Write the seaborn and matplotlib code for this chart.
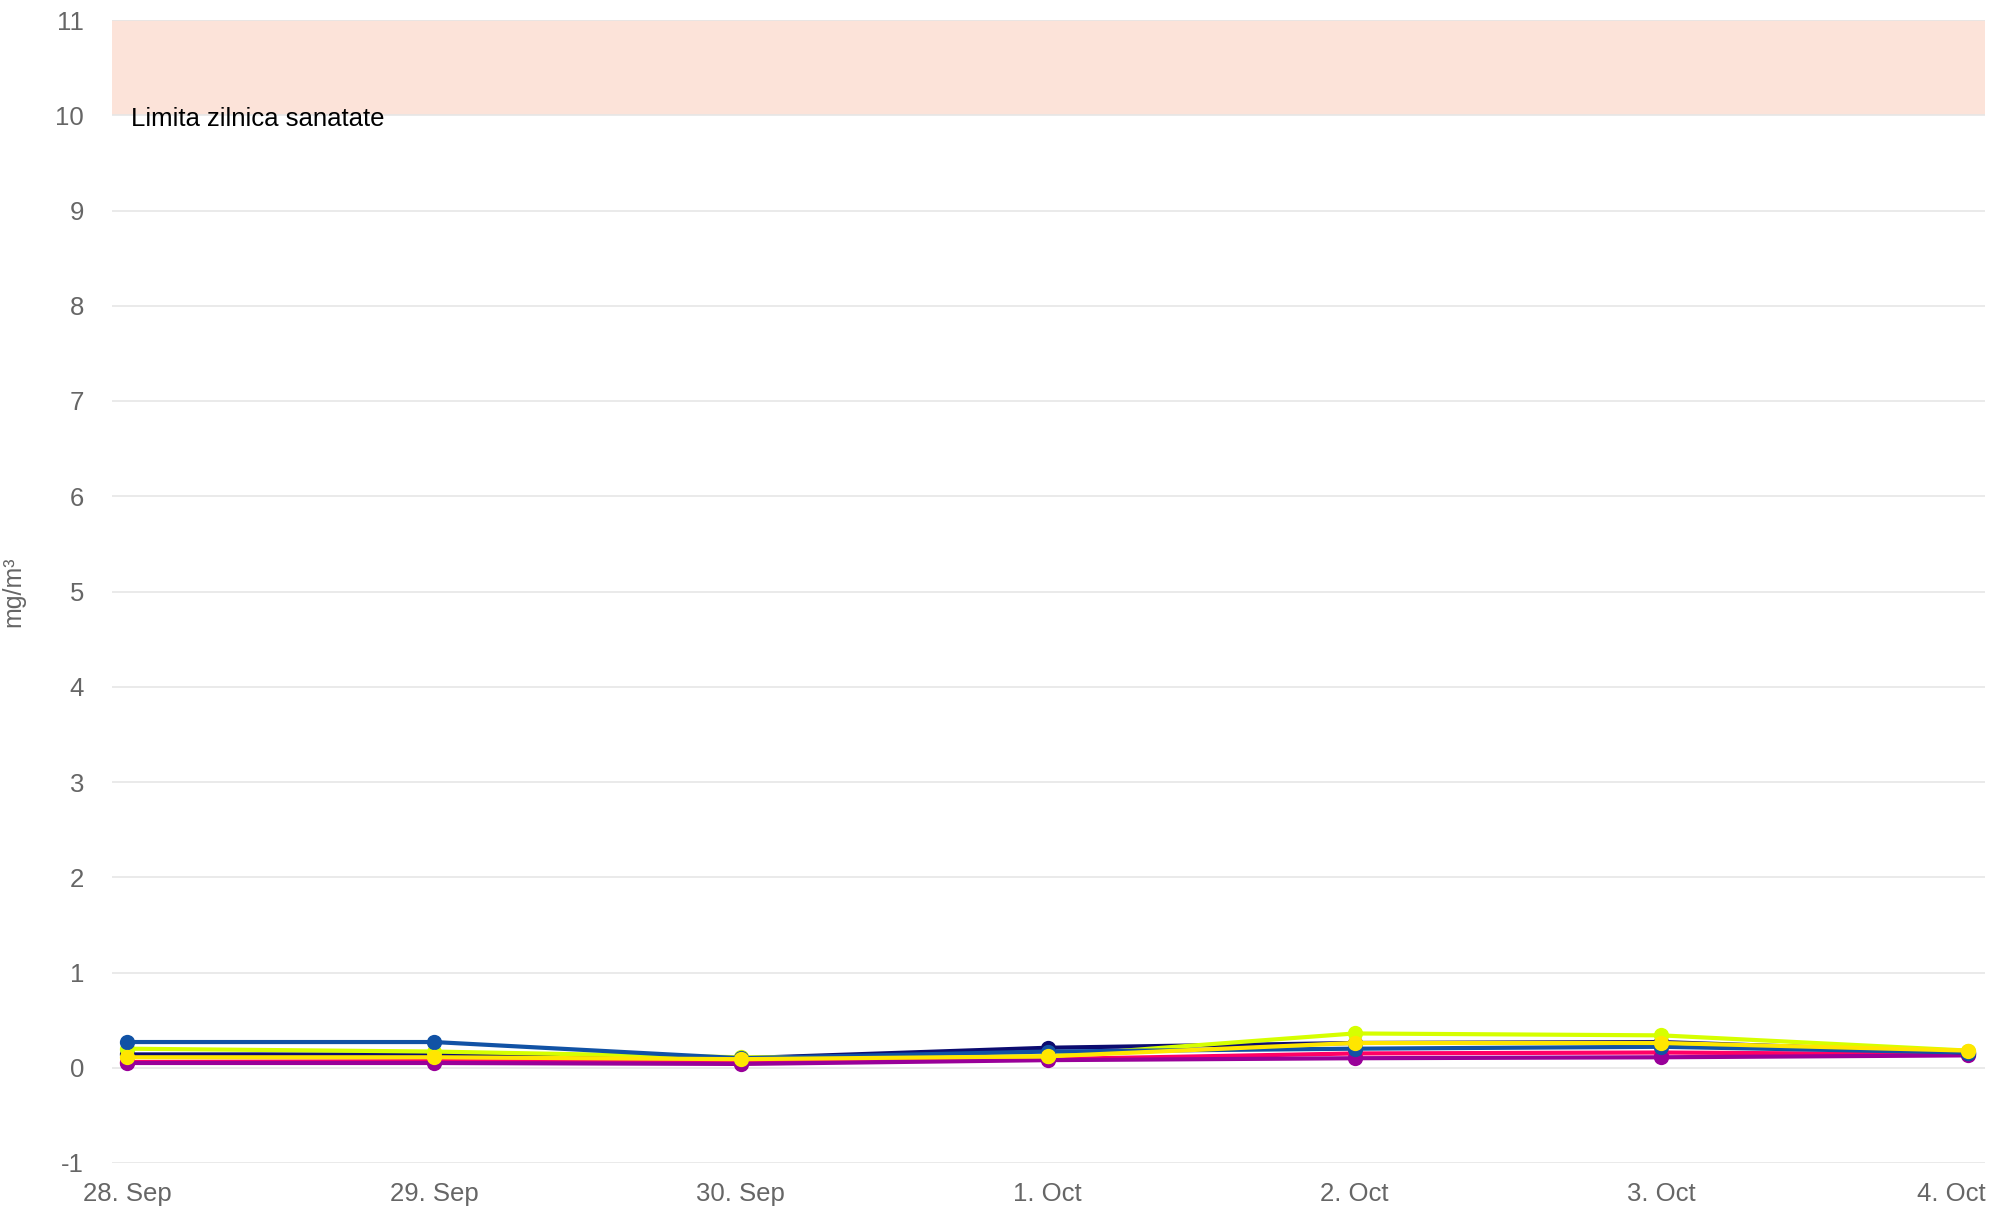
import numpy as np
import pandas as pd
import matplotlib
matplotlib.use('Agg')
import matplotlib.pyplot as plt
import matplotlib.transforms as mtrans
import seaborn as sns

# days on the x axis
days = ['28. Sep', '29. Sep', '30. Sep', '1. Oct', '2. Oct', '3. Oct', '4. Oct']

# daily values (mg/m³) per station
st_pink = [0.06, 0.07, 0.06, 0.09, 0.15, 0.16, 0.14]
st_purple = [0.05, 0.05, 0.04, 0.08, 0.10, 0.11, 0.13]
st_navy = [0.14, 0.14, 0.10, 0.21, 0.26, 0.27, 0.16]
st_ygreen = [0.20, 0.17, 0.11, 0.12, 0.36, 0.34, 0.18]
st_blue = [0.27, 0.27, 0.10, 0.17, 0.20, 0.22, 0.16]
st_yellow = [0.11, 0.11, 0.09, 0.12, 0.26, 0.26, 0.18]

series = {
    'S5': st_pink,
    'S6': st_purple,
    'S1': st_navy,
    'S3': st_ygreen,
    'S2': st_blue,
    'S4': st_yellow,
}
colors = {
    'S5': '#ff0066',
    'S6': '#990099',
    'S1': '#0b0b70',
    'S3': '#d6ff00',
    'S2': '#1152a5',
    'S4': '#ffe600',
}

limit_low, limit_high = 10, 11
limit_label = 'Limita zilnica sanatate'

rows = []
for name, vals in series.items():
    for i, v in enumerate(vals):
        rows.append({'day': i, 'value': v, 'station': name})
df = pd.DataFrame(rows)

sns.set_style('white')
plt.rcParams['font.family'] = ['Liberation Sans', 'DejaVu Sans']
plt.rcParams['axes.unicode_minus'] = False

fig = plt.figure(figsize=(19.95, 12.10), dpi=100)
ax = fig.add_axes([112 / 1995, 1 - 1163 / 1210, (1985 - 112) / 1995, (1163 - 20) / 1210])

ax.axhspan(limit_low, limit_high, color='#fce3d9', zorder=0, lw=0)

sns.lineplot(data=df, x='day', y='value', hue='station', hue_order=list(series.keys()),
             palette=colors, marker='o', markersize=11, markeredgewidth=0,
             linewidth=3, ax=ax, legend=False, zorder=3)

ax.set_ylim(-1, 11)
ax.set_xlim(-0.05, 6.055)
ax.set_yticks(range(-1, 12))
ax.set_xticks(range(len(days)))
ax.set_xticklabels(days)
ax.grid(axis='y', color='#e6e6e6', linewidth=1.2, zorder=1)
ax.grid(axis='x', visible=False)
for s in ax.spines.values():
    s.set_visible(False)
ax.tick_params(axis='both', length=0, labelsize=18.5, labelcolor='#666666')
ax.tick_params(axis='y', pad=20)
ax.tick_params(axis='x', pad=14)

# last label pushed inside the figure, like the original
last = ax.get_xticklabels()[-1]
last.set_horizontalalignment('right')
last.set_transform(last.get_transform() + mtrans.ScaledTranslation(0.17, 0, fig.dpi_scale_trans))

ax.set_xlabel('')
ax.set_ylabel('mg/m³', fontsize=18, color='#666666', labelpad=22)

ax.text(0.013, limit_low - 0.04, limit_label, fontsize=18.5, color='black', va='center', ha='left', zorder=4)

fig.savefig('out.png', dpi=100)
